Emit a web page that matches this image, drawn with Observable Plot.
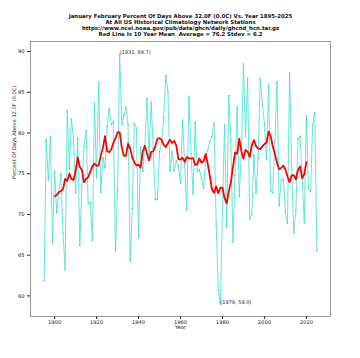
<!DOCTYPE html>
<html><head><meta charset="utf-8">
<script src="https://cdn.jsdelivr.net/npm/d3@7"></script>
<script src="https://cdn.jsdelivr.net/npm/@observablehq/plot@0.6"></script>
<style>body{margin:0;background:#fff;}</style>
</head><body><div id="chart"></div>
<script>
const firstYear = 1895;
const values = [
  61.9, 79.2, 74.2, 79.6, 66.5,
  75.3, 70.2, 72.8, 75.0, 67.7, 63.2, 82.8, 75.6, 81.7, 79.4,
  72.7, 79.4, 66.2, 73.6, 78.4, 80.3, 71.3, 71.5, 66.8, 83.7,
  74.5, 86.2, 72.7, 77.0, 75.7, 80.8, 83.0, 81.0, 81.4, 65.5,
  73.0, 89.7, 81.0, 82.2, 83.2, 81.0, 64.3, 70.7, 81.2, 80.6,
  67.2, 78.3, 75.3, 78.3, 84.2, 77.3, 83.8, 78.1, 71.8, 71.9,
  77.7, 78.9, 81.9, 87.1, 85.1, 75.3, 77.7, 75.3, 76.6, 76.0,
  73.8, 81.6, 76.1, 70.5, 84.5, 77.5, 72.5, 81.3, 75.3, 75.5,
  74.4, 73.2, 76.8, 77.9, 79.0, 79.6, 81.2, 68.8, 60.7, 59.0,
  70.5, 81.0, 68.4, 84.6, 79.2, 66.6, 74.8, 83.2, 72.2, 77.5,
  88.5, 79.6, 86.7, 69.4, 70.0, 77.3, 72.6, 76.9, 86.7, 83.5,
  81.2, 76.7, 85.9, 72.8, 72.7, 78.9, 86.3, 71.1, 74.2, 74.4,
  70.3, 68.9, 87.4, 75.9, 67.7, 70.4, 79.2, 79.6, 74.5, 69.0,
  82.1, 73.2, 72.8, 81.0, 82.5, 65.5
];
const titleLines = [
  "January February Percent Of Days Above 32.0F (0.0C) Vs. Year 1895-2025",
  "At All US Historical Climatology Network Stations",
  "https://www.ncei.noaa.gov/pub/data/ghcn/daily/ghcnd_hcn.tar.gz",
  "Red Line Is 10 Year Mean  Average = 76.2 Stdev = 6.2"
];
const xTicks = [1900, 1920, 1940, 1960, 1980, 2000, 2020];
const yTicks = [60, 65, 70, 75, 80, 85, 90];
const xLabel = "Year";
const yLabel = "Percent Of Days Above 32.0F (0.0C)";
const annotations = [
  {year: 1931, value: 89.7, label: "(1931, 89.7)"},
  {year: 1979, value: 59.0, label: "(1979, 59.0)"}
];

const data = values.map((v, i) => ({year: firstYear + i, value: v}));
const meanData = data.filter(d => d.year <= 2024);

const chart = Plot.plot({
  width: 360, height: 358,
  marginLeft: 30, marginRight: 30, marginTop: 41, marginBottom: 42,
  style: {fontFamily: "DejaVu Sans", fontSize: "5.2px", color: "#222", background: "#fff"},
  x: {domain: [1888.5, 2031.5], label: null},
  y: {domain: [57.47, 91.23], label: null},
  marks: [
    Plot.axisX({ticks: xTicks, tickFormat: "d", tickSize: 3, tickPadding: 0.5, label: null, fontSize: 5.2}),
    Plot.axisY({ticks: yTicks, tickSize: 3, tickPadding: 3, label: null, fontSize: 5.2}),
    Plot.line(data, {x: "year", y: "value", stroke: "turquoise", strokeWidth: 0.8}),
    Plot.dot(data, {x: "year", y: "value", r: 0.7, fill: "#35c4b8"}),
    Plot.line(meanData, Plot.windowY({k: 10, anchor: "start", reduce: "mean", strict: true},
      {x: d => d.year + 5, y: "value", stroke: "red", strokeWidth: 1.8})),
    Plot.text(annotations, {x: "year", y: "value", text: "label", textAnchor: "start", lineAnchor: "bottom", fontSize: 5, fill: "#222"}),
    Plot.frame({stroke: "#555", strokeWidth: 0.6}),
    Plot.text([titleLines.join("\n")], {frameAnchor: "top", dy: -27.5, lineAnchor: "top", lineHeight: 1.09, fontWeight: "bold", fontSize: 5.4, fill: "#111"}),
    Plot.text([xLabel], {frameAnchor: "bottom", dy: 12.8, fontSize: 5.2}),
    Plot.text([yLabel], {frameAnchor: "left", dx: -16, rotate: -90, fontSize: 5.2})
  ]
});
document.getElementById("chart").appendChild(chart);
</script>
</body></html>
